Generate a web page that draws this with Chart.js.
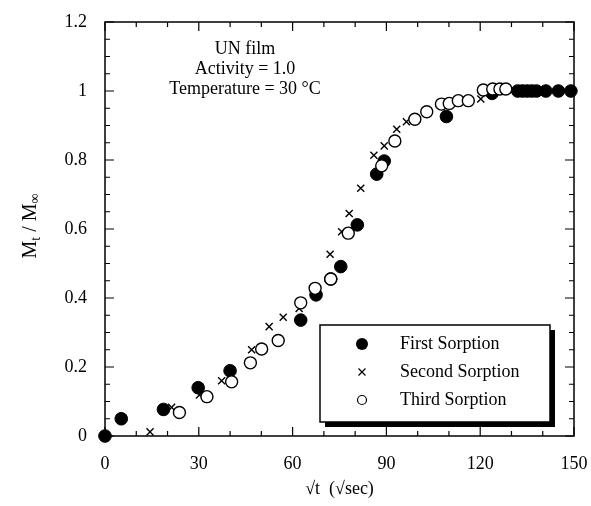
<!DOCTYPE html>
<html><head><meta charset="utf-8">
<script src="https://cdn.jsdelivr.net/npm/chart.js@4/dist/chart.umd.min.js"></script>
<style>html,body{margin:0;padding:0;background:#fff}#wrap{width:591px;height:506px}</style>
</head><body><div id="wrap"><canvas id="c" width="591" height="506"></canvas></div>
<script>
const seriesNames = ["First Sorption", "Second Sorption", "Third Sorption"];
const firstX = [0, 5.2, 18.7, 29.8, 40, 62.6, 67.5, 72.2, 75.4, 80.7, 86.9, 89.3, 109.2, 123.8, 132, 133.5, 135, 136.5, 138, 141, 145, 149];
const firstY = [0, 0.05, 0.077, 0.14, 0.189, 0.336, 0.409, 0.455, 0.491, 0.612, 0.759, 0.797, 0.926, 0.993, 1, 1, 1, 1, 1, 1, 1, 1];
const secondX = [14.4, 21.3, 30.2, 37.3, 46.9, 52.5, 57, 62.1, 72, 75.7, 78.1, 81.8, 86, 89.3, 93.3, 96.4, 120.2];
const secondY = [0.012, 0.083, 0.119, 0.16, 0.25, 0.317, 0.344, 0.37, 0.527, 0.592, 0.645, 0.718, 0.814, 0.841, 0.889, 0.911, 0.977];
const thirdX = [23.8, 32.6, 40.5, 46.5, 50.1, 55.4, 62.6, 67.2, 72.2, 77.8, 88.5, 92.7, 99.1, 102.9, 107.6, 110.1, 113, 116.2, 121, 124, 126.3, 128.2];
const thirdY = [0.068, 0.114, 0.157, 0.212, 0.252, 0.277, 0.386, 0.428, 0.455, 0.588, 0.783, 0.855, 0.918, 0.94, 0.962, 0.964, 0.972, 0.972, 1.003, 1.006, 1.006, 1.006];
const xTicks = [0, 30, 60, 90, 120, 150];
const yTicks = [0, 0.2, 0.4, 0.6, 0.8, 1, 1.2];
const yTickLabels = ["0", "0.2", "0.4", "0.6", "0.8", "1", "1.2"];
const noteLines = ["UN film", "Activity = 1.0", "Temperature = 30 \u00B0C"];
const xTitle = "\u221At  (\u221Asec)";

const FONT = '"Liberation Serif", "Times New Roman", serif';
const pts = (xs, ys) => xs.map((x, i) => ({x: x, y: ys[i]}));

const frame = {
  id: 'frame',
  afterDraw(chart) {
    const ctx = chart.ctx, a = chart.chartArea, xs = chart.scales.x, ys = chart.scales.y;
    ctx.save();
    ctx.strokeStyle = '#000'; ctx.lineWidth = 1.5;
    ctx.strokeRect(a.left, a.top, a.right - a.left, a.bottom - a.top);
    ctx.lineWidth = 1.2;
    ctx.beginPath();
    for (let v = 0; v <= 150; v += 10) {
      const p = xs.getPixelForValue(v);
      const L = (v % 30 === 0) ? 9 : 5;
      ctx.moveTo(p, a.bottom); ctx.lineTo(p, a.bottom - L);
      ctx.moveTo(p, a.top); ctx.lineTo(p, a.top + L);
    }
    for (let k = 0; k <= 24; k++) {
      const p = ys.getPixelForValue(k * 0.05);
      const L = (k % 4 === 0) ? 9 : 5;
      ctx.moveTo(a.left, p); ctx.lineTo(a.left + L, p);
      ctx.moveTo(a.right, p); ctx.lineTo(a.right - L, p);
    }
    ctx.stroke();

    ctx.fillStyle = '#000';
    ctx.font = '18px ' + FONT;
    ctx.textAlign = 'center'; ctx.textBaseline = 'middle';
    noteLines.forEach((t, i) => ctx.fillText(t, 245, 49 + i * 20));

    ctx.font = '18px ' + FONT;
    ctx.fillText(xTitle, (a.left + a.right) / 2, 489);

    ctx.save();
    ctx.translate(31, 226);
    ctx.rotate(-Math.PI / 2);
    const parts = [["M", 20, 0], ["t", 14, 5], [" / M", 20, 0], ["\u221E", 14, 4]];
    let total = 0;
    parts.forEach(p => { ctx.font = p[1] + 'px ' + FONT; total += ctx.measureText(p[0]).width; });
    let x0 = -total / 2;
    ctx.textAlign = 'left'; ctx.textBaseline = 'middle';
    parts.forEach(p => { ctx.font = p[1] + 'px ' + FONT; ctx.fillText(p[0], x0, p[2]); x0 += ctx.measureText(p[0]).width; });
    ctx.restore();

    const L = {l: 320, t: 325, r: 550, b: 422};
    ctx.fillStyle = '#000';
    ctx.fillRect(L.l + 5, L.t + 5, L.r - L.l, L.b - L.t);
    ctx.fillStyle = '#fff';
    ctx.fillRect(L.l, L.t, L.r - L.l, L.b - L.t);
    ctx.lineWidth = 1.5; ctx.strokeStyle = '#000';
    ctx.strokeRect(L.l, L.t, L.r - L.l, L.b - L.t);
    const rows = [344, 372, 400];
    const mx = 362;
    ctx.fillStyle = '#000';
    ctx.beginPath(); ctx.arc(mx, rows[0], 6, 0, Math.PI * 2); ctx.fill();
    ctx.lineWidth = 1.2;
    ctx.beginPath();
    ctx.moveTo(mx - 3.5, rows[1] - 3.5); ctx.lineTo(mx + 3.5, rows[1] + 3.5);
    ctx.moveTo(mx + 3.5, rows[1] - 3.5); ctx.lineTo(mx - 3.5, rows[1] + 3.5);
    ctx.stroke();
    ctx.beginPath(); ctx.arc(mx, rows[2], 4.5, 0, Math.PI * 2); ctx.stroke();
    ctx.font = '18px ' + FONT; ctx.textAlign = 'left'; ctx.textBaseline = 'middle';
    seriesNames.forEach((n, i) => ctx.fillText(n, 400, rows[i]));
    ctx.restore();
  }
};

new Chart(document.getElementById('c'), {
  type: 'scatter',
  data: {
    datasets: [
      {label: seriesNames[0], data: pts(firstX, firstY), pointStyle: 'circle', radius: 6.3, backgroundColor: '#000', borderColor: '#000', borderWidth: 1, order: 2, clip: false},
      {label: seriesNames[1], data: pts(secondX, secondY), pointStyle: 'crossRot', radius: 5, backgroundColor: '#000', borderColor: '#000', borderWidth: 1.4, order: 1, clip: false},
      {label: seriesNames[2], data: pts(thirdX, thirdY), pointStyle: 'circle', radius: 6, backgroundColor: '#fff', borderColor: '#000', borderWidth: 1.4, order: 0, clip: false}
    ]
  },
  options: {
    responsive: false, animation: false, devicePixelRatio: 1,
    layout: {padding: {left: 0, right: 17, top: 22, bottom: 0}},
    plugins: {legend: {display: false}, tooltip: {enabled: false}},
    elements: {point: {hoverRadius: 6}},
    scales: {
      x: {
        type: 'linear', min: 0, max: 150,
        afterFit(s) { s.height = 70; s.paddingLeft = 0; s.paddingRight = 0; },
        afterBuildTicks(s) { s.ticks = xTicks.map(v => ({value: v})); },
        grid: {display: false, drawTicks: false},
        border: {display: false},
        ticks: {color: '#000', font: {family: FONT, size: 18}, padding: 17, maxRotation: 0}
      },
      y: {
        type: 'linear', min: 0, max: 1.2,
        afterFit(s) { s.width = 105; s.paddingTop = 0; s.paddingBottom = 0; },
        afterBuildTicks(s) { s.ticks = yTicks.map(v => ({value: v})); },
        grid: {display: false, drawTicks: false},
        border: {display: false},
        ticks: {color: '#000', font: {family: FONT, size: 18}, padding: 18,
          callback: (v) => { const i = yTicks.findIndex(t => Math.abs(t - v) < 1e-9); return i >= 0 ? yTickLabels[i] : ''; }}
      }
    }
  },
  plugins: [frame]
});
</script></body></html>
